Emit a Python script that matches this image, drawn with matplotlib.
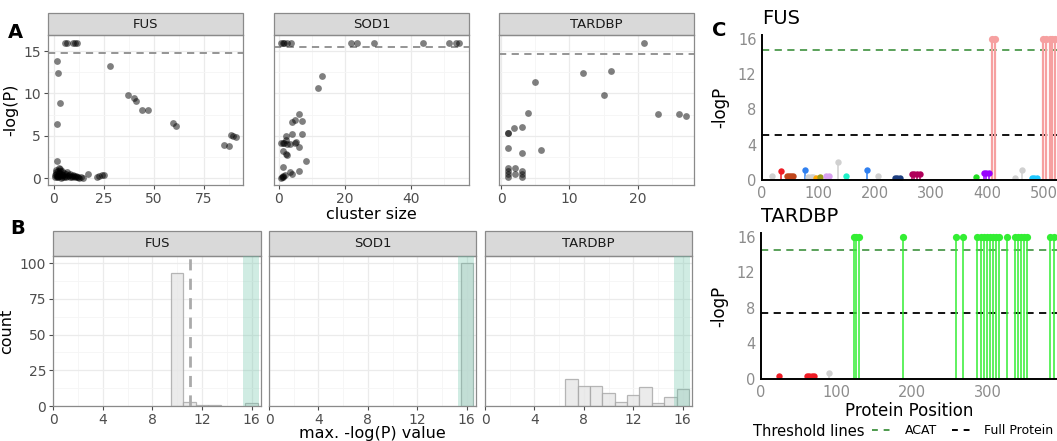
import matplotlib
matplotlib.use("Agg")
import matplotlib.pyplot as plt
from matplotlib.patches import Rectangle
from matplotlib.lines import Line2D

W, H = 1057, 441

# ---- panel A: cluster size vs -log(P)
genes = ["FUS", "SOD1", "TARDBP"]

fus_size = [5.5, 6.3, 9.5, 10.5, 11.3, 1.3, 2.0, 3.0, 1.3, 28, 36.8, 40, 41, 44, 47,
            59.3, 60.8, 85, 87.5, 88.3, 89.7, 91, 1.3, 17, 21.3, 22.5, 24, 24.8,
            0.5, 1, 1, 1.5, 2, 2, 2.5, 3, 3, 3.5, 4, 4, 4.5, 5, 5, 5.5, 6, 6, 6.5, 7,
            7.5, 8, 8, 9, 9, 9.5, 10, 10.5, 11, 11.5, 12, 12.5, 1, 2, 3, 4, 1.5, 2.5,
            0.5, 3.5, 13.5, 14.5]
fus_logp = [16, 16, 16, 16, 16, 13.8, 12.4, 8.9, 6.4, 13.3, 9.8, 9.5, 9.1, 8.1, 8.0,
            6.5, 6.2, 3.9, 3.8, 5.1, 5.0, 4.9, 2.0, 0.55, 0.2, 0.3, 0.4, 0.35,
            0.2, 0.5, 1.0, 0.3, 0.8, 0.1, 0.6, 0.3, 1.1, 0.5, 0.2, 0.8, 0.4, 0.6, 0.1,
            0.3, 0.5, 0.2, 0.7, 0.3, 0.4, 0.2, 0.5, 0.3, 0.1, 0.4, 0.3, 0.2, 0.3, 0.1,
            0.2, 0.0, 0.7, 0.3, 0.9, 0.4, 0.1, 1.2, 0.4, 0.0, 0.1, 0.05]

sod1_size = [0.6, 1.1, 1.6, 2.3, 3.8, 21.8, 23.8, 28.8, 43.7, 51.6, 53.6, 54.6,
             12.9, 11.9, 6.0, 7.0, 5.0, 4.0, 7.0, 4.0, 2.0, 2.2, 1.3, 0.6, 1.5, 2.5,
             3.5, 5.0, 5.2, 6.1, 1.1, 2.1, 2.3, 8.1, 1.3, 6.1, 3.2, 4.0, 1.9, 1.1,
             1.3, 0.6, 1.0]
sod1_logp = [16, 16, 16, 16, 16, 16, 16, 16, 16, 16, 16, 16,
             12.1, 10.7, 7.6, 6.8, 6.9, 6.6, 5.2, 5.2, 5.0, 4.5, 4.1, 4.1, 4.1, 4.0,
             4.0, 4.2, 4.3, 3.7, 3.2, 2.9, 2.7, 2.0, 1.3, 0.8, 0.7, 0.5, 0.4, 0.2,
             0.25, 0.0, 0.1]

tardbp_size = [20.9, 12.0, 16.0, 5.0, 15.0, 3.9, 23.0, 26.0, 27.0, 1.9, 3.0, 1.0, 1.0,
               1.0, 5.9, 3.0, 1.0, 1.0, 2.0, 1.0, 1.0, 2.0, 3.0, 3.0, 3.0]
tardbp_logp = [16.0, 12.4, 12.7, 11.4, 9.8, 7.7, 7.6, 7.6, 7.4, 5.9, 6.0, 5.3, 5.3,
               3.6, 3.3, 3.0, 1.2, 0.9, 1.2, 0.5, 0.2, 0.5, 0.8, 0.5, 0.2]

acat_a = [14.8, 15.5, 14.6]

# ---- panel B: histogram of max -log(P)
fus_bins = [10, 11, 12, 13, 16]
fus_counts = [93, 3, 1, 1, 2]
sod1_bins = [16]
sod1_counts = [100]
tardbp_bins = [7, 8, 9, 10, 11, 12, 13, 14, 15, 16]
tardbp_counts = [19, 14, 14, 9, 3, 8, 13, 2, 6, 12]
fus_null_line = 11.0

# ---- panel C: lollipops
fus_pos = [17, 33, 44, 48, 52, 55, 77, 82, 86, 90, 96, 103, 114, 118, 135, 149, 187,
           206, 236, 240, 245, 266, 270, 275, 280, 379, 393, 398, 403, 408, 413, 449,
           461, 478, 483, 488, 498, 504, 510, 515, 520]
fus_val = [0.4, 1.0, 0.4, 0.4, 0.4, 0.4, 1.1, 0.3, 0.3, 0.3, 0.2, 0.3, 0.4, 0.4, 2.0,
           0.5, 1.1, 0.4, 0.2, 0.2, 0.2, 0.7, 0.7, 0.7, 0.7, 0.3, 0.8, 0.8, 0.8, 16, 16,
           0.2, 1.1, 0.2, 0.2, 0.2, 16, 16, 16, 16, 16]
fus_col = ["#d0d0d0", "#ee1c25", "#c0461c", "#c0461c", "#c0461c", "#c0461c", "#3080f0",
           "#d0d0d0", "#d0d0d0", "#d0d0d0", "#ffa500", "#9a9a1a", "#d8a0f0", "#d8a0f0",
           "#d0d0d0", "#20f0c8", "#3080f0", "#d0d0d0", "#1f3f80", "#1f3f80", "#1f3f80",
           "#b0005a", "#b0005a", "#b0005a", "#b0005a", "#22dd22", "#9900ff", "#9900ff",
           "#9900ff", "#f6a0a0", "#f6a0a0", "#d0d0d0", "#d0d0d0", "#20c8ff", "#20c8ff",
           "#20c8ff", "#f6a0a0", "#f6a0a0", "#f6a0a0", "#f6a0a0", "#f6a0a0"]

tardbp_pos = [24, 61, 64, 67, 70, 90, 123, 126, 130, 188, 258, 267, 285, 290, 294, 298,
              302, 306, 310, 315, 325, 336, 340, 344, 348, 352, 382, 387]
tardbp_val = [0.35, 0.35, 0.35, 0.35, 0.35, 0.7] + [16] * 22
tardbp_col = ["#ee1c25"] * 5 + ["#d0d0d0"] + ["#33ee33"] * 22

acat_c = {"FUS": 14.8, "TARDBP": 14.5}
full_c = {"FUS": 5.1, "TARDBP": 7.4}

GRID = "#ebebeb"
TICK = "#4d4d4d"
BORDER = "#8a8a8a"
ACAT_COL = "#4d9a4d"


def px_axes(fig, l, t, r, b):
    return fig.add_axes([l / W, 1 - b / H, (r - l) / W, (b - t) / H])


def add_strip(ax, label, strip_px, ax_px):
    h = strip_px / ax_px
    ax.add_patch(Rectangle((0, 1), 1, h, transform=ax.transAxes, clip_on=False,
                           facecolor="#d9d9d9", edgecolor=BORDER, lw=0.9))
    ax.text(0.5, 1 + h / 2, label, transform=ax.transAxes, ha="center", va="center",
            fontsize=9.5, color="#1a1a1a")


def facet_style(ax, xmaj, xmin, ymaj, ymin, show_y):
    ax.set_xticks(xmaj)
    ax.set_xticks(xmin, minor=True)
    ax.set_yticks(ymaj)
    ax.set_yticks(ymin, minor=True)
    ax.grid(True, which="major", color=GRID, lw=0.9)
    ax.grid(True, which="minor", color="#f5f5f5", lw=0.6)
    ax.set_axisbelow(True)
    ax.tick_params(which="major", length=3, color=TICK, labelcolor=TICK, labelsize=10, pad=2)
    ax.tick_params(which="minor", length=0)
    if not show_y:
        ax.tick_params(axis="y", labelleft=False, length=0)
    for s in ax.spines.values():
        s.set_color(BORDER)
        s.set_linewidth(0.9)


fig = plt.figure(figsize=(W / 100, H / 100), dpi=100)

# ---- A
a_boxes = [(48, 35, 243, 185), (274, 35, 469, 185), (499, 35, 694, 185)]
a_xlims = [(-3, 94.5), (-1.5, 57.6), (-0.3, 28.2)]
a_xt = [([0, 25, 50, 75], [12.5, 37.5, 62.5, 87.5]),
        ([0, 20, 40], [10, 30, 50]),
        ([0, 10, 20], [5, 15, 25])]
a_data = [(fus_size, fus_logp), (sod1_size, sod1_logp), (tardbp_size, tardbp_logp)]
for i, g in enumerate(genes):
    ax = px_axes(fig, *a_boxes[i])
    xs, ys = a_data[i]
    ax.scatter(xs, ys, s=24, color="black", alpha=0.5, lw=0, zorder=3)
    ax.axhline(acat_a[i], color="#8c8c8c", ls=(0, (4, 3)), lw=1.3, zorder=2)
    ax.set_xlim(*a_xlims[i])
    ax.set_ylim(-0.8, 16.9)
    facet_style(ax, a_xt[i][0], a_xt[i][1], [0, 5, 10, 15], [2.5, 7.5, 12.5], i == 0)
    add_strip(ax, g, 22, 150)
    if i == 0:
        ax.set_ylabel("-log(P)", fontsize=11.5, labelpad=4)
    if i == 1:
        ax.set_xlabel("cluster size", fontsize=11.5, labelpad=1)

# ---- B
b_boxes = [(53, 256, 261, 406), (269, 256, 476, 406), (485, 256, 692, 406)]
b_data = [(fus_bins, fus_counts), (sod1_bins, sod1_counts), (tardbp_bins, tardbp_counts)]
for i, g in enumerate(genes):
    ax = px_axes(fig, *b_boxes[i])
    bins, counts = b_data[i]
    ax.bar(bins, counts, width=1.0, color="#e6e6e6", alpha=0.8, edgecolor="#a6a6a6",
           lw=0.9, zorder=2)
    ax.axvspan(15.3, 16.6, color="#66c2a5", alpha=0.3, lw=0, zorder=3)
    if g == "FUS":
        ax.axvline(fus_null_line, color="#aaaaaa", ls=(0, (4, 3)), lw=2, zorder=4)
    ax.set_xlim(0, 16.75)
    ax.set_ylim(0, 105)
    facet_style(ax, [0, 4, 8, 12, 16], [2, 6, 10, 14], [0, 25, 50, 75, 100],
                [12.5, 37.5, 62.5, 87.5], i == 0)
    add_strip(ax, g, 25, 150)
    if i == 0:
        ax.set_ylabel("count", fontsize=11.5, labelpad=4)
    if i == 1:
        ax.set_xlabel("max. -log(P) value", fontsize=11.5, labelpad=-1)

# ---- C
c_specs = [("FUS", (762, 35, 1057, 180), (0, 523), [0, 100, 200, 300, 400, 500],
            fus_pos, fus_val, fus_col),
           ("TARDBP", (761, 233, 1057, 379), (0, 391), [0, 100, 200, 300],
            tardbp_pos, tardbp_val, tardbp_col)]
for name, box, xl, xt, pos, val, col in c_specs:
    ax = px_axes(fig, *box)
    ax.axhline(acat_c[name], color=ACAT_COL, ls=(0, (4, 3)), lw=1.3, zorder=2)
    ax.axhline(full_c[name], color="black", ls=(0, (4, 3)), lw=1.3, zorder=2)
    for p, v, c in zip(pos, val, col):
        big = v > 10
        lw = 1.6 if (big and name == "FUS") else 1.1
        ax.plot([p, p], [0, v], color=c, lw=lw, solid_capstyle="butt", zorder=3)
        ax.plot([p], [v], "o", color=c, ms=5.2 if big else 4.6, mew=0, zorder=4)
    ax.set_xlim(*xl)
    ax.set_ylim(0, 16.45)
    ax.set_xticks(xt)
    ax.set_yticks([0, 4, 8, 12, 16])
    for s in ["top", "right"]:
        ax.spines[s].set_visible(False)
    for s in ["left", "bottom"]:
        ax.spines[s].set_linewidth(1.4)
        ax.spines[s].set_zorder(5)
    ax.tick_params(length=0, labelcolor="#8c8c8c", labelsize=10.5, pad=4)
    ax.set_ylabel("-logP", fontsize=12, labelpad=6)
    ax.set_title(name, loc="left", fontsize=14, pad=8, x=0.0)
    if name == "TARDBP":
        ax.set_xlabel("Protein Position", fontsize=12, labelpad=2)

# panel letters
fig.text(8 / W, 1 - 33 / H, "A", fontsize=14, fontweight="bold", va="center")
fig.text(10 / W, 1 - 229 / H, "B", fontsize=14, fontweight="bold", va="center")
fig.text(712 / W, 1 - 30 / H, "C", fontsize=14, fontweight="bold", va="center")

# threshold legend
fig.text(753 / W, 1 - 431 / H, "Threshold lines", fontsize=10.5, va="center")
handles = [Line2D([], [], color=ACAT_COL, ls=(0, (3, 3)), lw=1.4),
           Line2D([], [], color="black", ls=(0, (3, 3)), lw=1.4)]
fig.legend(handles, ["ACAT", "Full Protein"], loc="center left",
           bbox_to_anchor=(872 / W, 1 - 431 / H), ncol=2, frameon=False, fontsize=9,
           handlelength=1.8, handletextpad=0.8, columnspacing=1.2, borderpad=0,
           borderaxespad=0)

fig.savefig("out.png", dpi=100)
